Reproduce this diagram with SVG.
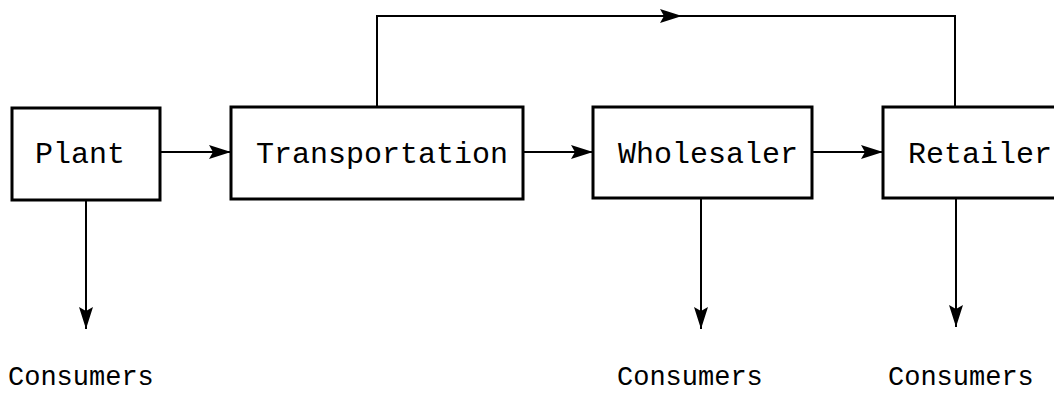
<svg xmlns="http://www.w3.org/2000/svg" width="1054" height="393" viewBox="0 0 1054 393">
  <style>
    .box { fill: #ffffff; stroke: #000000; stroke-width: 3; }
    .label { font-family: "Liberation Mono", "Courier New", monospace; font-size: 30px; fill: #000000; }
    .sink { font-family: "Liberation Mono", "Courier New", monospace; font-size: 27px; fill: #000000; }
    .conn { fill: none; stroke: #000000; stroke-width: 2; }
  </style>
  <defs>
    <marker id="arrow" markerUnits="userSpaceOnUse" markerWidth="22" markerHeight="14" refX="22" refY="7" orient="auto" overflow="visible">
      <path d="M0,0 L22,7 L0,14 L4,7 z" fill="#000000"/>
    </marker>
  </defs>
  <rect width="1054" height="393" fill="#ffffff"/>

  <g id="connectors">
    <line class="conn" x1="160" y1="152" x2="231" y2="152" marker-end="url(#arrow)"/>
    <line class="conn" x1="523" y1="152" x2="593" y2="152" marker-end="url(#arrow)"/>
    <line class="conn" x1="812" y1="152" x2="883" y2="152" marker-end="url(#arrow)"/>
    <path class="conn" d="M377,107 V16 H682" marker-end="url(#arrow)"/>
    <path class="conn" d="M680,16 H955 V107"/>
    <line class="conn" x1="86" y1="200" x2="86" y2="329" marker-end="url(#arrow)"/>
    <line class="conn" x1="701" y1="199" x2="701" y2="329" marker-end="url(#arrow)"/>
    <line class="conn" x1="956" y1="199" x2="956" y2="327" marker-end="url(#arrow)"/>
  </g>

  <g id="plant">
    <rect class="box" x="12" y="108" width="148" height="92"/>
    <text class="label" x="35" y="163">Plant</text>
  </g>
  <g id="transportation">
    <rect class="box" x="231" y="107" width="292" height="92"/>
    <text class="label" x="256" y="163">Transportation</text>
  </g>
  <g id="wholesaler">
    <rect class="box" x="593" y="107" width="219" height="91"/>
    <text class="label" x="618" y="163">Wholesaler</text>
  </g>
  <g id="retailer">
    <rect class="box" x="883" y="107" width="180" height="91"/>
    <text class="label" x="908" y="163">Retailer</text>
  </g>

  <g id="consumers-1">
    <text class="sink" x="8" y="385">Consumers</text>
  </g>
  <g id="consumers-2">
    <text class="sink" x="617" y="385">Consumers</text>
  </g>
  <g id="consumers-3">
    <text class="sink" x="888" y="385">Consumers</text>
  </g>
</svg>
